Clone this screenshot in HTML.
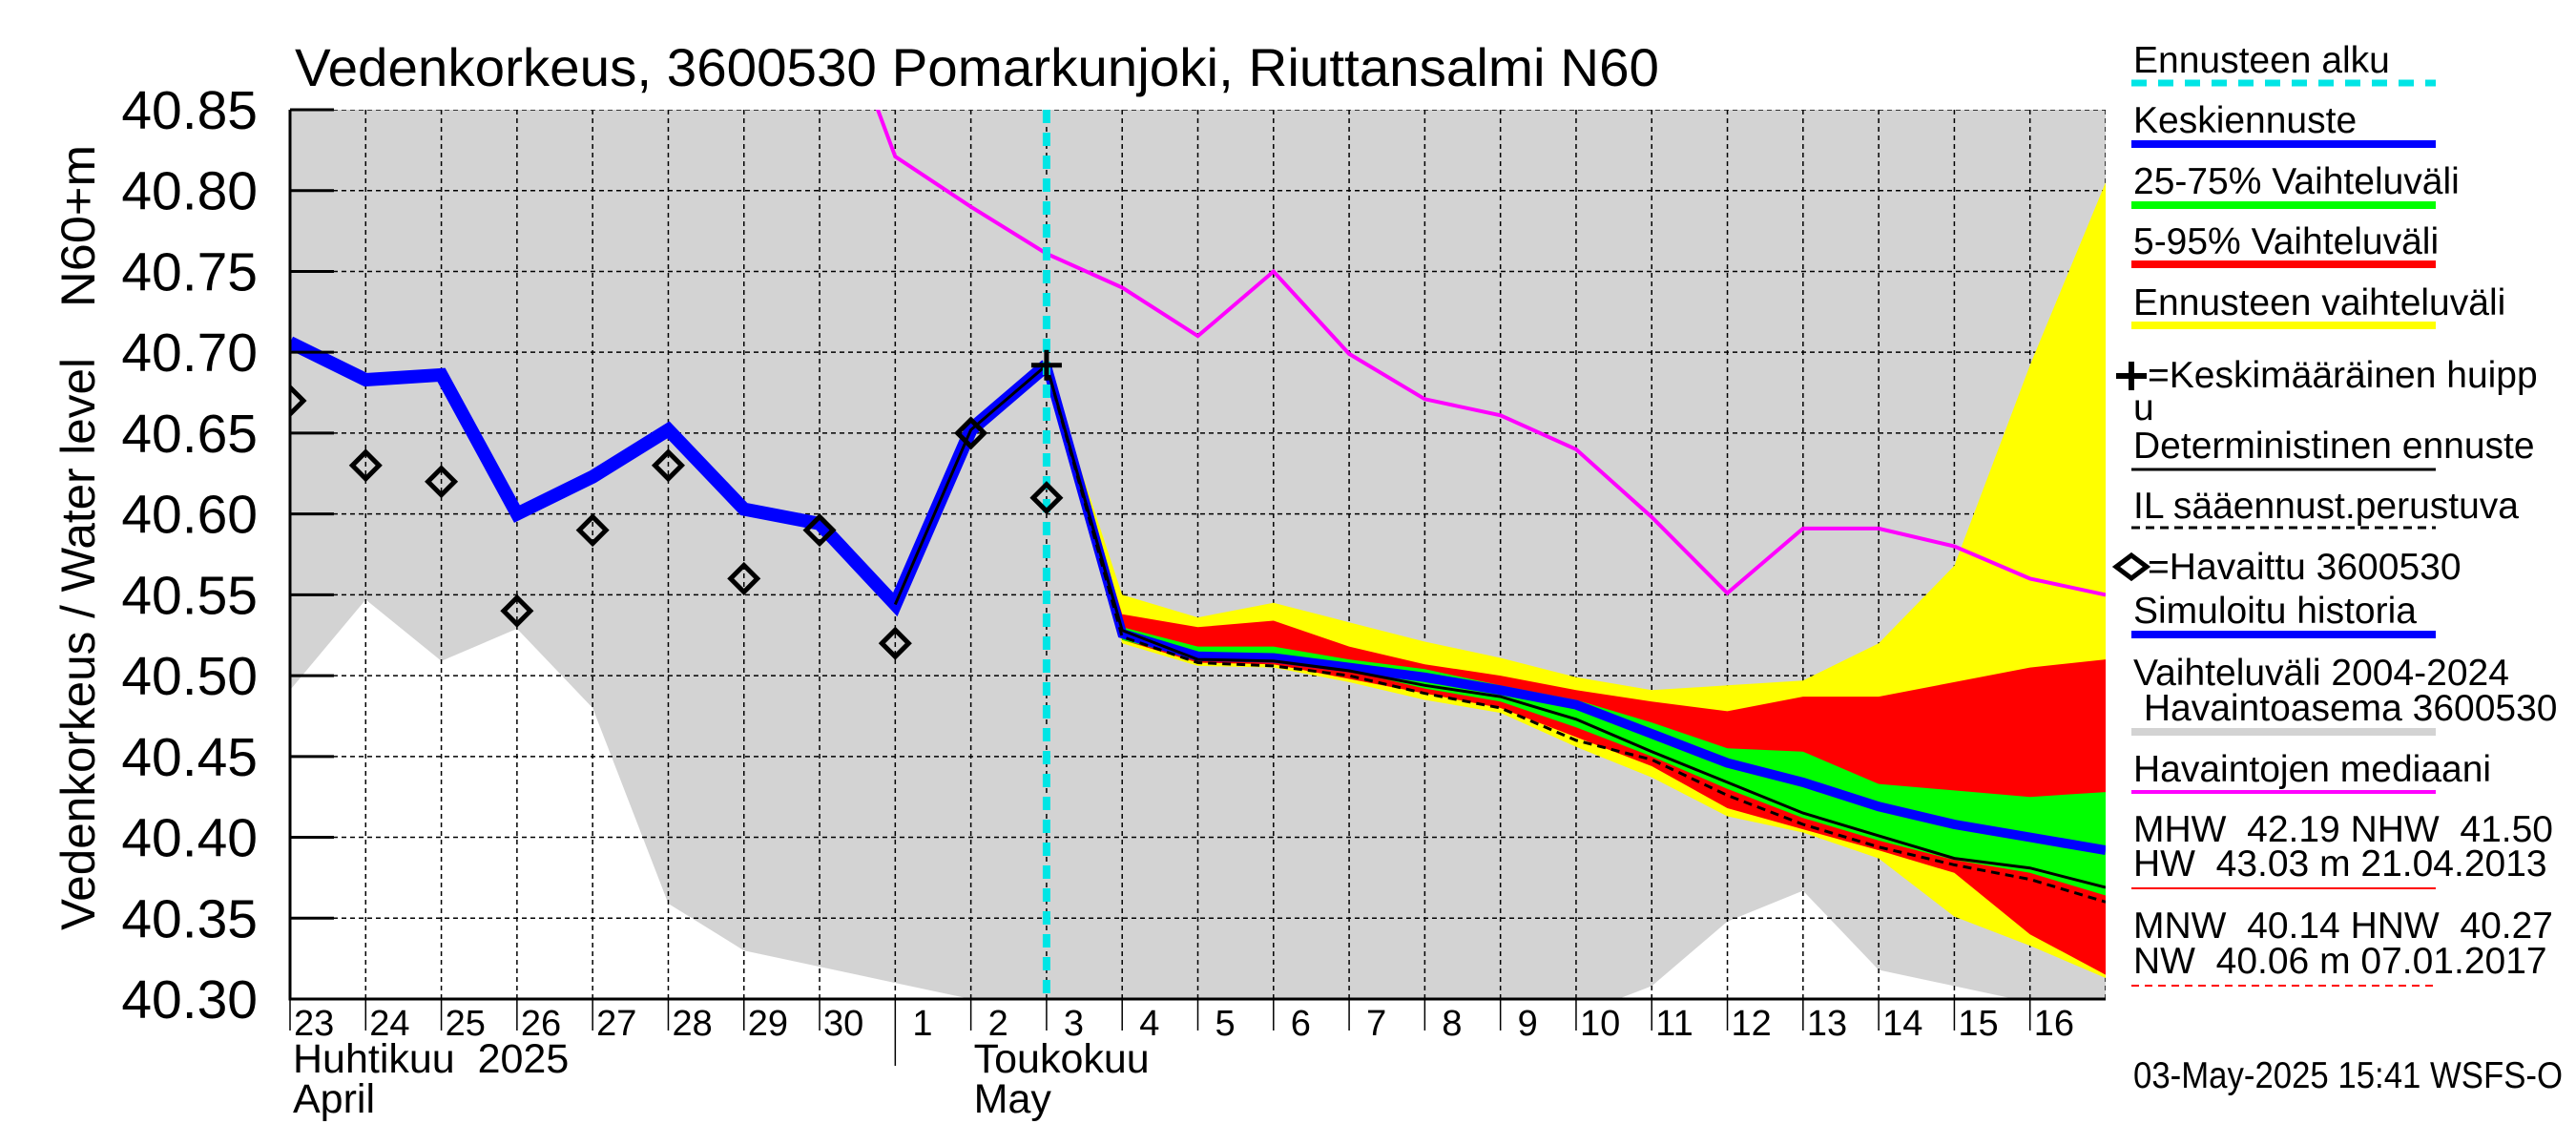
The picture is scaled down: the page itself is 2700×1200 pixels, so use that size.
<!DOCTYPE html>
<html><head><meta charset="utf-8"><style>
html,body{margin:0;padding:0;background:#fff;}
svg{display:block;font-family:"Liberation Sans",sans-serif;}
text{white-space:pre;}
</style></head><body>
<svg id="chart" width="2700" height="1200" viewBox="0 0 2700 1200" xmlns="http://www.w3.org/2000/svg">
<defs><clipPath id="plotclip"><rect x="304" y="115" width="1903" height="932"/></clipPath></defs>
<rect x="0" y="0" width="2700" height="1200" fill="#fff"/>
<text x="309" y="90" font-size="56" textLength="1430" lengthAdjust="spacingAndGlyphs">Vedenkorkeus, 3600530 Pomarkunjoki, Riuttansalmi N60</text>
<g id="plot" clip-path="url(#plotclip)"></g>
<g id="axes"></g>
<text transform="translate(99,975) rotate(-90)" font-size="50" textLength="600" lengthAdjust="spacingAndGlyphs">Vedenkorkeus / Water level</text>
<text transform="translate(99,322) rotate(-90)" font-size="50" textLength="170" lengthAdjust="spacingAndGlyphs">N60+m</text>
<g id="legend"></g>
</svg>
<script>
const dayLabels=["23","24","25","26","27","28","29","30","1","2","3","4","5","6","7","8","9","10","11","12","13","14","15","16"];
const yTicks=[40.30,40.35,40.40,40.45,40.50,40.55,40.60,40.65,40.70,40.75,40.80,40.85];
const simHist=[40.706,40.683,40.686,40.600,40.623,40.652,40.603,40.594,40.544,40.652,40.692];
const observed=[40.67,40.63,40.62,40.54,40.59,40.63,40.56,40.59,40.52,40.65,40.61];
const histLow=[40.491,40.547,40.509,40.529,40.48,40.359,40.33,40.32,40.31,40.30,40.29,40.29,40.29,40.29,40.29,40.29,40.29,40.29,40.308,40.348,40.367,40.318,40.308,40.298,40.29];
const medianStart=7;
const median=[40.947,40.821,40.79,40.761,40.74,40.71,40.75,40.699,40.671,40.661,40.640,40.598,40.551,40.591,40.591,40.58,40.56,40.55];
const fcStart=10;
const yelTop=[40.692,40.55,40.536,40.545,40.533,40.521,40.511,40.499,40.491,40.494,40.497,40.52,40.568,40.692,40.805];
const redTop=[40.692,40.538,40.530,40.534,40.518,40.507,40.500,40.491,40.484,40.478,40.487,40.487,40.496,40.505,40.51];
const grnTop=[40.692,40.53,40.518,40.518,40.51,40.504,40.494,40.485,40.471,40.455,40.453,40.433,40.429,40.425,40.428];
const meanFc=[40.692,40.526,40.512,40.511,40.505,40.499,40.491,40.482,40.464,40.446,40.434,40.419,40.408,40.40,40.392];
const grnBot=[40.692,40.522,40.51,40.508,40.503,40.492,40.484,40.468,40.45,40.43,40.412,40.398,40.386,40.378,40.364];
const redBot=[40.692,40.522,40.508,40.507,40.498,40.489,40.48,40.462,40.444,40.418,40.405,40.392,40.378,40.34,40.315];
const yelBot=[40.692,40.52,40.506,40.505,40.496,40.485,40.477,40.456,40.437,40.413,40.403,40.387,40.351,40.333,40.313];
const detFc=[40.692,40.528,40.51,40.509,40.503,40.494,40.487,40.473,40.453,40.434,40.415,40.401,40.387,40.381,40.369];
const ilFc=[40.692,40.524,40.508,40.506,40.5,40.489,40.48,40.46,40.448,40.426,40.408,40.394,40.383,40.374,40.36];
const peakDay=10, peakVal=40.692, forecastStartDay=10;

const NS="http://www.w3.org/2000/svg";
const L=304,R=2207,T=115,B=1047;
function x(d){return L+d*(R-L)/24;}
function y(v){return B-(v-40.30)/0.55*(B-T);}
function mk(tag,attrs,parent){const e=document.createElementNS(NS,tag);for(const k in attrs)e.setAttribute(k,attrs[k]);parent.appendChild(e);return e;}
const plot=document.getElementById('plot'),axes=document.getElementById('axes'),leg=document.getElementById('legend');
function pts(arr,start){return arr.map((v,i)=>x(start+i).toFixed(1)+','+y(v).toFixed(1));}
function band(top,bot,start){return pts(top,start).concat(pts(bot,start).reverse()).join(' ');}

let e;
e=mk('rect',{x:L,y:T,width:R-L,height:B-T,fill:'#fff'},plot);

e=mk('polygon',{points:[L+','+(T-5)].concat(pts(histLow,0)).concat([R+','+(T-5)]).join(' '),fill:'#d3d3d3'},plot);

for(let d=0;d<=24;d++){e=mk('line',{x1:x(d),y1:T,x2:x(d),y2:B,stroke:'#000','stroke-width':1.5,'stroke-dasharray':'5,4'},plot);
}
yTicks.forEach(v=>{e=mk('line',{x1:L,y1:y(v),x2:R,y2:y(v),stroke:'#000','stroke-width':1.5,'stroke-dasharray':'5,4'},plot);
});
e=mk('polygon',{points:band(yelTop,yelBot,fcStart),fill:'#ffff00'},plot);

e=mk('polygon',{points:band(redTop,redBot,fcStart),fill:'#ff0000'},plot);

e=mk('polygon',{points:band(grnTop,grnBot,fcStart),fill:'#00ff00'},plot);

e=mk('polyline',{points:pts(median,medianStart).join(' '),fill:'none',stroke:'#ff00ff','stroke-width':4},plot);

e=mk('polyline',{points:pts(simHist,0).join(' '),fill:'none',stroke:'#0000ff','stroke-width':14,'stroke-linejoin':'miter'},plot);

e=mk('polyline',{points:pts(meanFc,fcStart).join(' '),fill:'none',stroke:'#0000ff','stroke-width':10},plot);

e=mk('polyline',{points:pts(simHist.slice(8),8).concat(pts(detFc.slice(1),fcStart+1)).join(' '),fill:'none',stroke:'#000','stroke-width':3},plot);

e=mk('polyline',{points:pts(ilFc,fcStart).join(' '),fill:'none',stroke:'#000','stroke-width':3,'stroke-dasharray':'9,6'},plot);

e=mk('line',{x1:x(forecastStartDay),y1:T,x2:x(forecastStartDay),y2:B,stroke:'#00e5e5','stroke-width':8,'stroke-dasharray':'14,10'},plot);

observed.forEach((v,i)=>{const cx=x(i),cy=y(v),s=14;
e=mk('polygon',{points:`${cx-s},${cy} ${cx},${cy-s} ${cx+s},${cy} ${cx},${cy+s}`,fill:'none',stroke:'#000','stroke-width':5},plot);
});
{const cx=x(peakDay),cy=y(peakVal);
e=mk('path',{d:`M${cx-16},${cy}H${cx+16}M${cx},${cy-16}V${cy+16}`,stroke:'#000','stroke-width':5},plot);
}
e=mk('path',{d:`M${L},${T}V${B}H${R}`,fill:'none',stroke:'#000','stroke-width':3},axes);

yTicks.forEach(v=>{e=mk('line',{x1:L,y1:y(v),x2:L+46,y2:y(v),stroke:'#000','stroke-width':3},axes);

e=mk('text',{x:270,y:y(v)+20,'font-size':57,'text-anchor':'end'},axes);e.textContent=v.toFixed(2);
});
dayLabels.forEach((t,i)=>{e=mk('line',{x1:x(i),y1:B,x2:x(i),y2:i==8?1117:1080,stroke:'#000','stroke-width':1.5},axes);

e=mk('text',{x:x(i)+(t.length==1?18:4),y:1085,'font-size':38},axes);e.textContent=t;
});
[[x(0)+3,1124,'Huhtikuu  2025'],[x(0)+3,1166,'April'],[x(9)+3,1124,'Toukokuu'],[x(9)+3,1166,'May']].forEach(a=>{
e=mk('text',{x:a[0],y:a[1],'font-size':43},axes);e.textContent=a[2];
});
const LX=2236,LX1=2234,LX2=2553;
function lt(yy,t,name){e=mk('text',{x:LX,y:yy,'font-size':39},leg);e.textContent=t;
}
function ll(yy,col,w,dash,name){const a={x1:LX1,y1:yy,x2:LX2,y2:yy,stroke:col,'stroke-width':w};if(dash)a['stroke-dasharray']=dash;e=mk('line',a,leg);
}
lt(76,'Ennusteen alku','legend-forecast-start');ll(87,'#00e5e5',7,'16,12','legend-forecast-start-line');
lt(139,'Keskiennuste','legend-mean-forecast');ll(151,'#0000ff',8,null,'legend-mean-forecast-line');
lt(203,'25-75% Vaihteluväli','legend-band-25-75');ll(215,'#00ff00',8,null,'legend-band-25-75-swatch');
lt(266,'5-95% Vaihteluväli','legend-band-5-95');ll(277,'#ff0000',8,null,'legend-band-5-95-swatch');
lt(330,'Ennusteen vaihteluväli','legend-forecast-range');ll(341,'#ffff00',8,null,'legend-forecast-range-swatch');
e=mk('path',{d:'M2218,394H2250M2234,379V409',stroke:'#000','stroke-width':6},leg);
lt(406,'=Keskimääräinen huipp','legend-mean-peak');e.setAttribute('x',2251);
lt(440,'u','legend-mean-peak-wrap');
lt(480,'Deterministinen ennuste','legend-deterministic');ll(492,'#000',3,null,'legend-deterministic-line');
lt(543,'IL sääennust.perustuva','legend-il-forecast');ll(553,'#000',3,'9,6','legend-il-forecast-line');
e=mk('polygon',{points:'2218,594 2234,582 2250,594 2234,606',fill:'none',stroke:'#000','stroke-width':5},leg);
lt(607,'=Havaittu 3600530','legend-observed');e.setAttribute('x',2251);
lt(653,'Simuloitu historia','legend-sim-history');ll(665,'#0000ff',8,null,'legend-sim-history-line');
lt(718,'Vaihteluväli 2004-2024','legend-hist-range');lt(755,' Havaintoasema 3600530','legend-hist-station');ll(767,'#d3d3d3',8,null,'legend-hist-range-swatch');
lt(819,'Havaintojen mediaani','legend-median');ll(830,'#ff00ff',4,null,'legend-median-line');
lt(882,'MHW  42.19 NHW  41.50','legend-mhw');lt(918,'HW  43.03 m 21.04.2013','legend-hw');ll(931,'#ff0000',2,null,'legend-hw-line');
lt(983,'MNW  40.14 HNW  40.27','legend-mnw');lt(1020,'NW  40.06 m 07.01.2017','legend-nw');ll(1033,'#ff0000',2,'8,6','legend-nw-line');
lt(1140,'03-May-2025 15:41 WSFS-O','timestamp');e.setAttribute('textLength','450');e.setAttribute('lengthAdjust','spacingAndGlyphs');
</script>
</body></html>
